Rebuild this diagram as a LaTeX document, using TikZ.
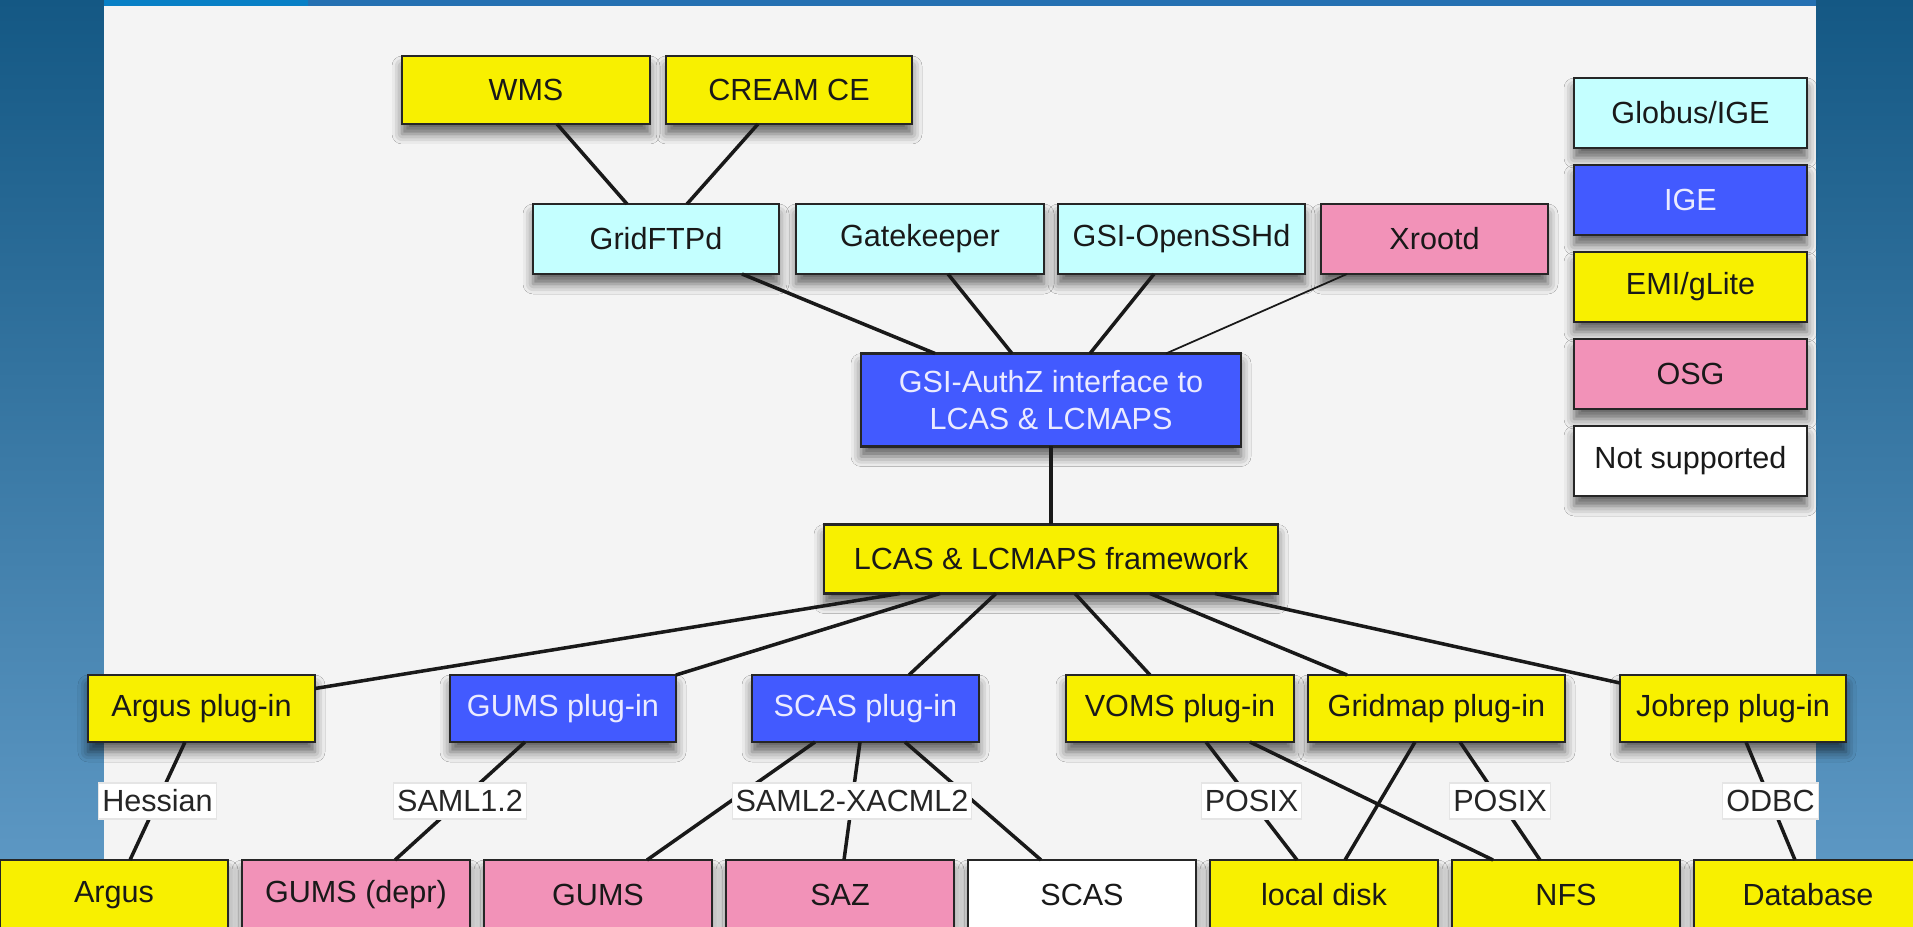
\documentclass[tikz,border=0pt]{standalone}
\usepackage{fontspec}
\setmainfont{Liberation Sans}
\usetikzlibrary{shapes,arrows,positioning,shadows,shadows.blur}

\definecolor{emiyellow}{RGB}{248,240,0}
\definecolor{globuscyan}{RGB}{196,255,255}
\definecolor{igeblue}{RGB}{66,90,255}
\definecolor{osgpink}{RGB}{242,146,184}
\definecolor{panelgrey}{RGB}{244,244,244}
\definecolor{bgtop}{RGB}{20,88,132}
\definecolor{bgbottom}{RGB}{98,156,200}
\definecolor{bandblue}{RGB}{36,112,178}
\definecolor{bandlight}{RGB}{8,128,198}

\newcommand{\diafont}{\fontsize{8.7pt}{10.4pt}\selectfont}

\tikzstyle{block} = [rectangle, draw=black!85, line width=0.6pt, align=center, font=\diafont, text=black!90, outer sep=0pt, blur shadow={shadow xshift=0mm, shadow yshift=-1.0mm, shadow blur radius=1.0mm, shadow opacity=60}]
\tikzstyle{emi} = [block, fill=emiyellow]
\tikzstyle{globus} = [block, fill=globuscyan]
\tikzstyle{ige} = [block, fill=igeblue, text=white!92!blue]
\tikzstyle{osg} = [block, fill=osgpink]
\tikzstyle{nosupport} = [block, fill=white]
\tikzstyle{line} = [draw, line width=1pt, black!90]
\tikzstyle{proto} = [fill=white, draw=black!10, line width=0.3pt, inner sep=1pt, minimum height=0.36cm, font=\diafont, text=black!85]

\begin{document}
\begin{tikzpicture}
	% background
	\useasboundingbox (0,0) rectangle (19.13,-9.27);
	\shade[top color=bgtop, bottom color=bgbottom] (0,0) rectangle (19.13,-9.27);
	\fill[panelgrey] (1.04,-0.06) rectangle (18.16,-9.27);
	\fill[bandblue] (1.04,0) rectangle (18.16,-0.06);
	\fill[bandlight] (1.04,0) rectangle (3.08,-0.06);

	% services
	\node[emi, minimum width=2.48cm, minimum height=0.68cm] (wms) at (5.26,-0.90) {WMS};
	\node[emi, minimum width=2.46cm, minimum height=0.68cm, right=0.16cm of wms] (cream) {CREAM CE};

	\node[globus, minimum width=2.46cm, minimum height=0.70cm] (gridftpd) at (6.56,-2.39) {GridFTPd};
	\node[globus, minimum width=2.48cm, minimum height=0.70cm, right=0.17cm of gridftpd] (gatekeeper) {Gatekeeper};
	\node[globus, minimum width=2.47cm, minimum height=0.70cm, right=0.14cm of gatekeeper] (gsissh) {GSI-OpenSSHd};
	\node[osg, minimum width=2.27cm, minimum height=0.70cm, right=0.16cm of gsissh] (xrootd) {Xrootd};

	\node[ige, minimum width=3.80cm, minimum height=0.93cm] (gsiauthz) at (10.51,-4.00) {GSI-AuthZ interface to\\LCAS \& LCMAPS};
	\node[emi, minimum width=4.54cm, minimum height=0.69cm, below=0.78cm of gsiauthz] (framework) {LCAS \& LCMAPS framework};

	% plug-ins
	\node[emi, minimum width=2.27cm, minimum height=0.67cm] (argusplugin) at (2.015,-7.085) {Argus plug-in};
	\node[ige, minimum width=2.26cm, minimum height=0.67cm, right=1.35cm of argusplugin] (gumsplugin) {GUMS plug-in};
	\node[ige, minimum width=2.27cm, minimum height=0.67cm, right=0.76cm of gumsplugin] (scasplugin) {SCAS plug-in};
	\node[emi, minimum width=2.28cm, minimum height=0.67cm, right=0.87cm of scasplugin] (vomsplugin) {VOMS plug-in};
	\node[emi, minimum width=2.57cm, minimum height=0.67cm, right=0.14cm of vomsplugin] (gridmapplugin) {Gridmap plug-in};
	\node[emi, minimum width=2.26cm, minimum height=0.67cm, right=0.55cm of gridmapplugin] (jobrepplugin) {Jobrep plug-in};

	% back ends
	\node[emi, minimum width=2.28cm, minimum height=0.70cm] (argus) at (1.14,-8.95) {Argus};
	\node[osg, minimum width=2.28cm, minimum height=0.70cm, right=0.14cm of argus] (gumsdepr) {GUMS (depr)};
	\node[osg, minimum width=2.28cm, minimum height=0.70cm, right=0.14cm of gumsdepr] (gums) {GUMS};
	\node[osg, minimum width=2.28cm, minimum height=0.70cm, right=0.14cm of gums] (saz) {SAZ};
	\node[nosupport, minimum width=2.28cm, minimum height=0.70cm, right=0.14cm of saz] (scas) {SCAS};
	\node[emi, minimum width=2.28cm, minimum height=0.70cm, right=0.14cm of scas] (localdisk) {local disk};
	\node[emi, minimum width=2.28cm, minimum height=0.70cm, right=0.14cm of localdisk] (nfs) {NFS};
	\node[emi, minimum width=2.28cm, minimum height=0.70cm, right=0.14cm of nfs] (database) {Database};

	% legend
	\node[globus, minimum width=2.33cm, minimum height=0.70cm] (legglobus) at (16.905,-1.13) {Globus/IGE};
	\node[ige, minimum width=2.33cm, minimum height=0.70cm, below=0.17cm of legglobus] (legige) {IGE};
	\node[emi, minimum width=2.33cm, minimum height=0.70cm, below=0.17cm of legige] (legemi) {EMI/gLite};
	\node[osg, minimum width=2.33cm, minimum height=0.70cm, below=0.17cm of legemi] (legosg) {OSG};
	\node[nosupport, minimum width=2.33cm, minimum height=0.70cm, below=0.17cm of legosg] (legnone) {Not supported};

	\path [line] ([xshift=0.31cm]wms.south) -- ([xshift=-0.29cm]gridftpd.north);
	\path [line] ([xshift=-0.31cm]cream.south) -- ([xshift=0.31cm]gridftpd.north);

	\path [line] ([xshift=0.86cm]gridftpd.south) -- ([xshift=-1.16cm]gsiauthz.north);
	\path [line] ([xshift=0.28cm]gatekeeper.south) -- ([xshift=-0.39cm]gsiauthz.north);
	\path [line] ([xshift=-0.275cm]gsissh.south) -- ([xshift=0.39cm]gsiauthz.north);
	\path [line, line width=0.5pt] ([xshift=-0.875cm]xrootd.south) -- ([xshift=1.15cm]gsiauthz.north);

	\path [line] (gsiauthz.south) -- (framework.north);

	\path [line] ([xshift=-1.51cm]framework.south) -- ([yshift=0.2cm]argusplugin.east);
	\path [line] ([xshift=-1.11cm]framework.south) -- (gumsplugin.north east);
	\path [line] ([xshift=-0.55cm]framework.south) -- ([xshift=0.435cm]scasplugin.north);
	\path [line] ([xshift=0.24cm]framework.south) -- ([xshift=-0.30cm]vomsplugin.north);
	\path [line] ([xshift=0.99cm]framework.south) -- ([xshift=-0.895cm]gridmapplugin.north);
	\path [line] ([xshift=1.64cm]framework.south) -- ([yshift=0.255cm]jobrepplugin.west);

	\path [line] ([xshift=-0.505cm]scasplugin.south) -- ([xshift=0.49cm]gums.north);
	\path [line] ([xshift=0.395cm]scasplugin.south) -- ([xshift=-0.41cm]scas.north);
	\path [line] ([xshift=0.70cm]vomsplugin.south) -- ([xshift=-0.73cm]nfs.north);
	\path [line] ([xshift=-0.215cm]gridmapplugin.south) -- ([xshift=0.21cm]localdisk.north);

	\path [line] ([xshift=-0.165cm]argusplugin.south) -- node[proto] {Hessian} ([xshift=0.16cm]argus.north);
	\path [line] ([xshift=-0.38cm]gumsplugin.south) -- node[proto] {SAML1.2} ([xshift=0.39cm]gumsdepr.north);
	\path [line] ([xshift=-0.055cm]scasplugin.south) -- node[proto] {SAML2-XACML2} ([xshift=0.04cm]saz.north);
	\path [line] ([xshift=0.26cm]vomsplugin.south) -- node[proto] {POSIX} ([xshift=-0.27cm]localdisk.north);
	\path [line] ([xshift=0.235cm]gridmapplugin.south) -- node[proto] {POSIX} ([xshift=-0.26cm]nfs.north);
	\path [line] ([xshift=0.13cm]jobrepplugin.south) -- node[proto] {ODBC} ([xshift=-0.13cm]database.north);
\end{tikzpicture}
\end{document}
